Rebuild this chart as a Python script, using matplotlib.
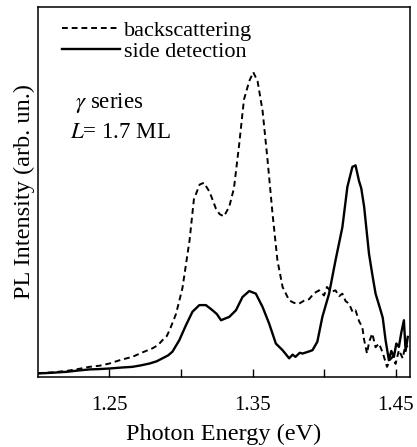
import matplotlib.pyplot as plt
from matplotlib.ticker import FixedLocator, FixedFormatter

# photon energy (eV) and PL intensity (arb. un.)
e_back = [1.200, 1.210, 1.220, 1.228, 1.236, 1.243, 1.250, 1.258, 1.266, 1.273, 1.280,
          1.284, 1.287, 1.290, 1.292, 1.2965, 1.301, 1.306, 1.309, 1.313, 1.316, 1.320,
          1.3244, 1.327, 1.330, 1.3337, 1.337, 1.3407, 1.344, 1.3477, 1.3505, 1.3535,
          1.357, 1.3605, 1.364, 1.3674, 1.371, 1.3756, 1.379, 1.3826, 1.386, 1.3895,
          1.393, 1.3965, 1.400, 1.402, 1.405, 1.408, 1.4105, 1.4128, 1.415, 1.4174,
          1.420, 1.422, 1.4245, 1.4267, 1.428, 1.430, 1.4315, 1.4337, 1.436, 1.4384,
          1.441, 1.444, 1.446, 1.4477, 1.450, 1.4523, 1.455, 1.457, 1.459]
i_back = [1.0, 1.2, 1.6, 2.1, 2.7, 3.0, 3.6, 4.6, 5.4, 6.6, 7.7,
          8.6, 9.9, 11.0, 12.6, 17.0, 24.0, 37.0, 48.0, 52.0, 52.5, 50.0,
          45.5, 44.0, 43.4, 46.0, 51.0, 63.0, 75.0, 80.0, 82.4, 80.0,
          72.0, 58.6, 44.0, 31.5, 24.3, 20.7, 20.0, 19.8, 20.6, 21.0,
          22.6, 23.4, 22.0, 24.3, 23.0, 23.4, 21.8, 22.5, 20.5, 19.8,
          17.5, 18.0, 15.0, 13.5, 10.0, 6.3, 9.5, 11.7, 8.0, 9.0,
          6.5, 2.7, 4.5, 5.4, 3.5, 7.2, 5.0, 9.0, 7.5]

e_side = [1.200, 1.210, 1.220, 1.228, 1.236, 1.243, 1.250, 1.258, 1.266, 1.272, 1.278,
          1.283, 1.287, 1.291, 1.294, 1.2988, 1.3035, 1.308, 1.3128, 1.3174, 1.322,
          1.325, 1.328, 1.331, 1.3337, 1.3384, 1.343, 1.3477, 1.3523, 1.357, 1.3616,
          1.3663, 1.371, 1.3756, 1.378, 1.380, 1.383, 1.385, 1.389, 1.3919, 1.3953,
          1.3988, 1.4035, 1.408, 1.4128, 1.4163, 1.4198, 1.422, 1.4244, 1.426, 1.428,
          1.4314, 1.434, 1.436, 1.4395, 1.441, 1.443, 1.4453, 1.447, 1.4488, 1.4505,
          1.4523, 1.454, 1.4558, 1.457, 1.4585]
i_side = [0.9, 1.1, 1.35, 1.7, 2.0, 2.1, 2.25, 2.5, 2.7, 3.1, 3.6,
          4.2, 5.0, 5.8, 6.8, 9.9, 14.0, 17.6, 19.4, 19.4, 18.0,
          17.0, 15.3, 15.8, 16.2, 18.0, 21.6, 23.2, 22.5, 18.9, 14.4,
          9.0, 7.2, 5.0, 6.0, 5.4, 6.5, 6.3, 6.8, 7.2, 9.5,
          16.2, 22.5, 31.5, 40.5, 51.4, 56.8, 57.2, 53.0, 51.0, 46.0,
          33.3, 27.0, 22.5, 18.0, 16.0, 9.9, 4.5, 7.0, 5.4, 9.0,
          8.1, 12.0, 15.3, 7.0, 10.8]

xticks = [1.25, 1.30, 1.35, 1.40, 1.45]
xticklabels = ['1.25', '', '1.35', '', '1.45']

plt.rcParams['font.family'] = ['Liberation Serif', 'DejaVu Serif']
plt.rcParams['mathtext.fontset'] = 'stix'

fig = plt.figure(figsize=(4.17, 4.47), dpi=100)
ax = fig.add_axes([0.091, 0.157, 0.892, 0.827])

ax.plot(e_back, i_back, color='black', lw=1.4, ls=(0, (3.0, 2.0)), label='backscattering')
ax.plot(e_side, i_side, color='black', lw=1.7, label='side detection')

ax.set_xlim(1.20, 1.46)
ax.set_ylim(0, 100)
ax.xaxis.set_major_locator(FixedLocator(xticks))
ax.xaxis.set_major_formatter(FixedFormatter(xticklabels))
ax.set_yticks([])
ax.tick_params(axis='x', direction='in', length=6, width=1, labelsize=15, pad=14)
for s in ax.spines.values():
    s.set_linewidth(1.1)

ax.set_xlabel('Photon Energy (eV)', fontsize=17.5, labelpad=6)
ax.set_ylabel('PL Intensity (arb. un.)', fontsize=17.5, labelpad=2)

ax.legend(loc='upper left', frameon=False, fontsize=16, handlelength=2.6,
          handletextpad=0.15, labelspacing=0.0, borderaxespad=0.2,
          bbox_to_anchor=(0.03, 1.0))

ax.text(0.10, 0.726, r'$\gamma$ series', transform=ax.transAxes, fontsize=16.5)
ax.text(0.085, 0.645, r'$L$= 1.7 ML', transform=ax.transAxes, fontsize=16.5)

fig.savefig('out.png', dpi=100)
